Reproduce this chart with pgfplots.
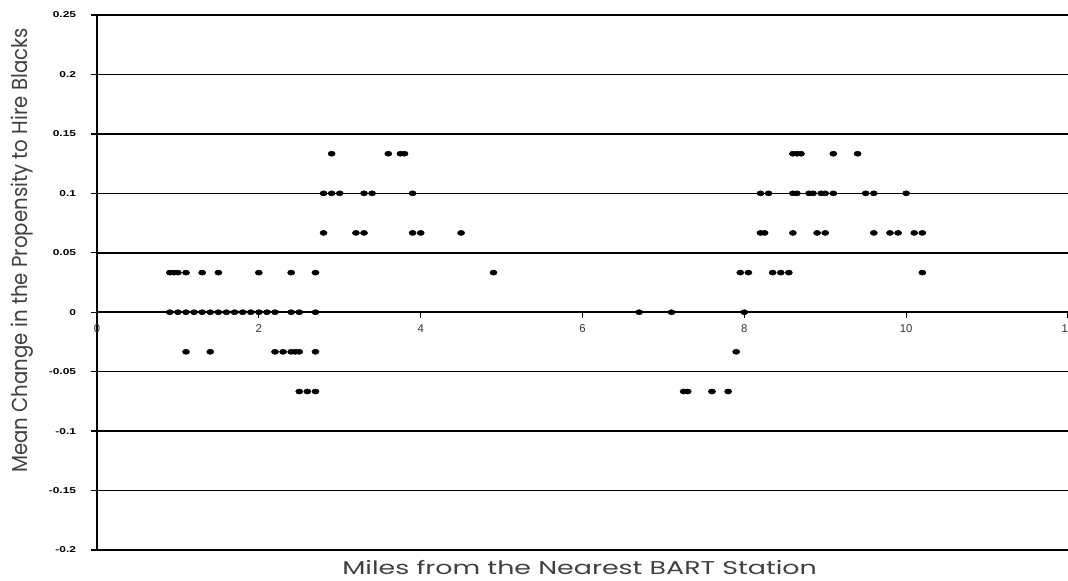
\documentclass[border=0pt]{standalone}
\usepackage{fontspec}
\setmainfont{Poppins}
\newfontfamily\tickfont{Liberation Sans}
\usepackage{pgfplots}
\pgfplotsset{compat=1.18}
\usepackage{pgfplotstable}
\pgfplotstableread{
x y
0.9 0.0333
0.95 0.0333
1.0 0.0333
1.1 0.0333
1.3 0.0333
1.5 0.0333
2.0 0.0333
2.4 0.0333
2.7 0.0333
4.9 0.0333
7.95 0.0333
8.05 0.0333
8.35 0.0333
8.45 0.0333
8.55 0.0333
10.2 0.0333
0.9 0
1.0 0
1.1 0
1.2 0
1.3 0
1.4 0
1.5 0
1.6 0
1.7 0
1.8 0
1.9 0
2.0 0
2.1 0
2.2 0
2.4 0
2.5 0
2.7 0
6.7 0
7.1 0
8.0 0
1.1 -0.0333
1.4 -0.0333
2.2 -0.0333
2.3 -0.0333
2.4 -0.0333
2.45 -0.0333
2.5 -0.0333
2.7 -0.0333
7.9 -0.0333
2.5 -0.0667
2.6 -0.0667
2.7 -0.0667
7.25 -0.0667
7.3 -0.0667
7.6 -0.0667
7.8 -0.0667
2.8 0.0667
3.2 0.0667
3.3 0.0667
3.9 0.0667
4.0 0.0667
4.5 0.0667
8.2 0.0667
8.25 0.0667
8.6 0.0667
8.9 0.0667
9.0 0.0667
9.6 0.0667
9.8 0.0667
9.9 0.0667
10.1 0.0667
10.2 0.0667
2.8 0.1
2.9 0.1
3.0 0.1
3.3 0.1
3.4 0.1
3.9 0.1
8.2 0.1
8.3 0.1
8.6 0.1
8.65 0.1
8.8 0.1
8.85 0.1
8.95 0.1
9.0 0.1
9.1 0.1
9.5 0.1
9.6 0.1
10.0 0.1
2.9 0.1333
3.6 0.1333
3.75 0.1333
3.8 0.1333
8.6 0.1333
8.65 0.1333
8.7 0.1333
9.1 0.1333
9.4 0.1333
}\pts
\newcommand{\yt}[1]{\scalebox{1.4}[1]{#1}}
\begin{document}
\begin{tikzpicture}
\begin{axis}[
  scale only axis,
  width=728.25pt, height=401.25pt,
  xmin=0, xmax=12, ymin=-0.2, ymax=0.25,
  axis x line=middle, axis y line=left,
  hide obscured x ticks=false,
  axis line style={-, line width=1.1pt, black},
  xtick={0,2,4,6,8,10,12},
  xticklabels={0,2,4,6,8,10,12},
  ytick={-0.2,-0.15,-0.1,-0.05,0,0.05,0.1,0.15,0.2,0.25},
  yticklabels={\yt{-0.2},\yt{-0.15},\yt{-0.1},\yt{-0.05},\yt{0},\yt{0.05},\yt{0.1},\yt{0.15},\yt{0.2},\yt{0.25}},
  ymajorgrids,
  major grid style={black, line width=1.1pt},
  tick align=outside,
  major tick length=4.5pt,
  tick style={black, line width=1pt},
  yticklabel style={font=\tickfont\bfseries\fontsize{6.4}{8}\selectfont, inner sep=0pt, xshift=-11pt},
  xticklabel style={font=\tickfont\fontsize{8.5}{9}\selectfont, text=black!80, inner sep=0pt, yshift=-4.5pt},
  xlabel={\scalebox{1.45}[1]{Miles from the Nearest BART Station}},
  ylabel={\scalebox{1}[1.1]{Mean Change in the Propensity to Hire Blacks}},
  label style={font=\fontsize{13.9}{15}\selectfont, text=black!75},
  xlabel style={at={(axis description cs:0.497,-0.0336)}, anchor=center},
  ylabel style={at={(axis description cs:-0.0772,0.56)}, anchor=center, rotate=0, font=\fontsize{14.8}{16}\selectfont},
]
\addplot[only marks, mark=*, mark size=1.9pt, mark options={xscale=1.4, fill=black, draw=none}] table[x=x,y=y] {\pts};
\end{axis}
\pgfresetboundingbox
\useasboundingbox (-72.75pt,-23.25pt) rectangle (728.25pt,412.5pt);
\end{tikzpicture}
\end{document}
